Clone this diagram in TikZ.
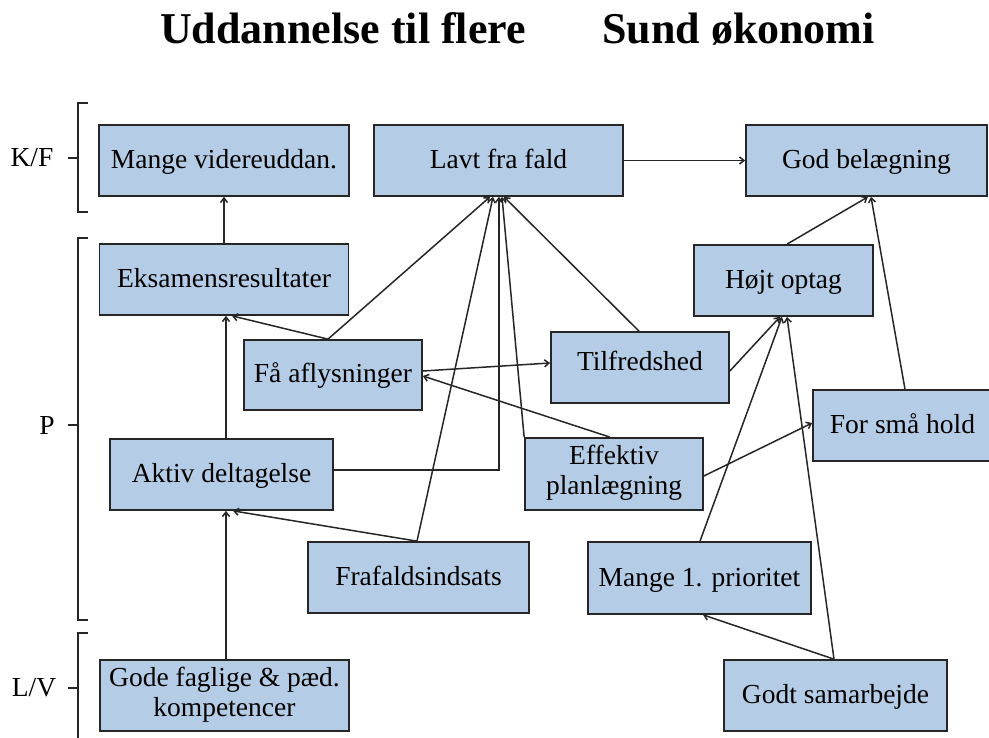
\documentclass[tikz,border=0pt]{standalone}
\usepackage{fontspec}
\setmainfont{Liberation Serif}
\usetikzlibrary{arrows.meta,calc}
\definecolor{boxfill}{RGB}{180,204,229}
\definecolor{ink}{RGB}{38,38,38}
\newcommand{\mybstrut}{\rule[-8pt]{0pt}{32pt}}
\begin{document}
\begin{tikzpicture}[x=1pt,y=-1pt,
  box/.style={draw=ink,line width=1.7pt,fill=boxfill,inner sep=0pt,align=center,
    font=\fontsize{27.5}{30}\selectfont,text=black,
    execute at begin node=\mybstrut, execute at end node=\mybstrut},
  arr/.style={draw=ink,line width=1.5pt,-{Straight Barb[length=4.5pt,width=7pt]}},
  brk/.style={draw=ink,line width=1.7pt},
  lab/.style={font=\fontsize{27.5}{30}\selectfont},
  ttl/.style={font=\fontsize{44}{48}\selectfont\bfseries,anchor=base}]
\useasboundingbox (0,0) rectangle (989,738);
% titles
\node[ttl] (t1) at (343,44) {Uddannelse til flere};
\node[ttl] (t2) at (738.5,44) {Sund økonomi};
% brackets
\draw[brk] (88,103) -- (78,103) -- (78,212) -- (88,212);
\draw[brk] (68,158) -- (78,158);
\node[lab] (kf) at (32,158) {K/F};
\draw[brk] (88,238) -- (78,238) -- (78,620) -- (88,620);
\draw[brk] (68,425) -- (78,425);
\node[lab] (p) at (47,425) {P};
\draw[brk] (88,633) -- (78,633) -- (78,745);
\draw[brk] (68,688) -- (78,688);
\node[lab] (lv) at (34,688) {L/V};
% boxes
\node[box,minimum width=250pt,minimum height=71pt] (mv) at (224,160.5) {Mange videreuddan.};
\node[box,minimum width=249pt,minimum height=71pt] (lf) at (498.5,160.5) {Lavt fra fald};
\node[box,minimum width=241pt,minimum height=71pt] (gb) at (866.5,160.5) {God belægning};
\node[box,minimum width=249pt,minimum height=71pt] (ek) at (224,279.5) {Eksamensresultater};
\node[box,minimum width=179pt,minimum height=71pt] (ho) at (783.5,280.5) {Højt optag};
\node[box,minimum width=178pt,minimum height=71pt] (ti) at (640,367.5) {\smash{\raisebox{5.5pt}{Tilfredshed}}};
\node[box,minimum width=179pt,minimum height=71pt] (fs) at (902.5,425.5) {For små hold};
\node[box,minimum width=178pt,minimum height=72pt] (ep) at (614,474) {Effektiv\\planlægning};
\node[box,minimum width=178pt,minimum height=70pt] (fa) at (333,375) {Få aflysninger};
\node[box,minimum width=223pt,minimum height=71pt] (ad) at (221.5,474.5) {Aktiv deltagelse};
\node[box,minimum width=221pt,minimum height=71pt] (ff) at (418.5,577.5) {Frafaldsindsats};
\node[box,minimum width=223pt,minimum height=72pt] (mp) at (699.5,578) {Mange 1. prioritet};
\node[box,minimum width=223pt,minimum height=71pt] (gs) at (835.5,695.5) {Godt samarbejde};
\node[box,minimum width=249pt,minimum height=71pt] (gf) at (224.5,695.5) {Gode faglige \& pæd.\\kompetencer};
% connectors
\draw[arr] (ek.north) -- (mv.south);
\draw[arr] ([xshift=4.5pt]ad.north) -- ([xshift=2pt]ek.south);
\draw[arr] ([xshift=1.5pt]gf.north) -- ([xshift=4.5pt]ad.south);
\draw[arr] ([xshift=-5pt]fa.north) -- ([xshift=8pt]ek.south);
\draw[arr] ([xshift=-5pt]fa.north) -- ([xshift=-8.5pt]lf.south);
\draw[arr] ([yshift=4pt]fa.east) -- ([yshift=4.5pt]ti.west);
\draw[arr] ([xshift=-4pt]ep.north) -- ([yshift=-1pt]fa.east);
\draw[arr] ([yshift=4.5pt]ad.east) -| ([xshift=0.5pt]lf.south);
\draw[arr] ([xshift=-1.5pt]ff.north) -- ([xshift=-5.5pt]lf.south);
\draw[arr] ([xshift=-1.5pt]ff.north) -- ([xshift=11.5pt]ad.south);
\draw[arr] (ep.north west) -- ([xshift=3.5pt]lf.south);
\draw[arr] ([xshift=-1pt]ti.north) -- ([xshift=5.5pt]lf.south);
\draw[arr] (lf.east) -- (gb.west);
\draw[arr] ([xshift=3.5pt]ho.north) -- ([xshift=1.5pt]gb.south);
\draw[arr] ([xshift=2.5pt]fs.north) -- ([xshift=4.5pt]gb.south);
\draw[arr] ([yshift=-3.5pt]ti.east) -- ([xshift=-3.5pt]ho.south);
\draw[arr] ([xshift=0.5pt]mp.north) -- ([xshift=-1.5pt]ho.south);
\draw[arr] ([xshift=-1.5pt]gs.north) -- ([xshift=3.5pt]ho.south);
\draw[arr] ([xshift=-1.5pt]gs.north) -- ([xshift=3.5pt]mp.south);
\draw[arr] ([yshift=-2pt]ep.east) -- ([yshift=2.5pt]fs.west);
\end{tikzpicture}
\end{document}
